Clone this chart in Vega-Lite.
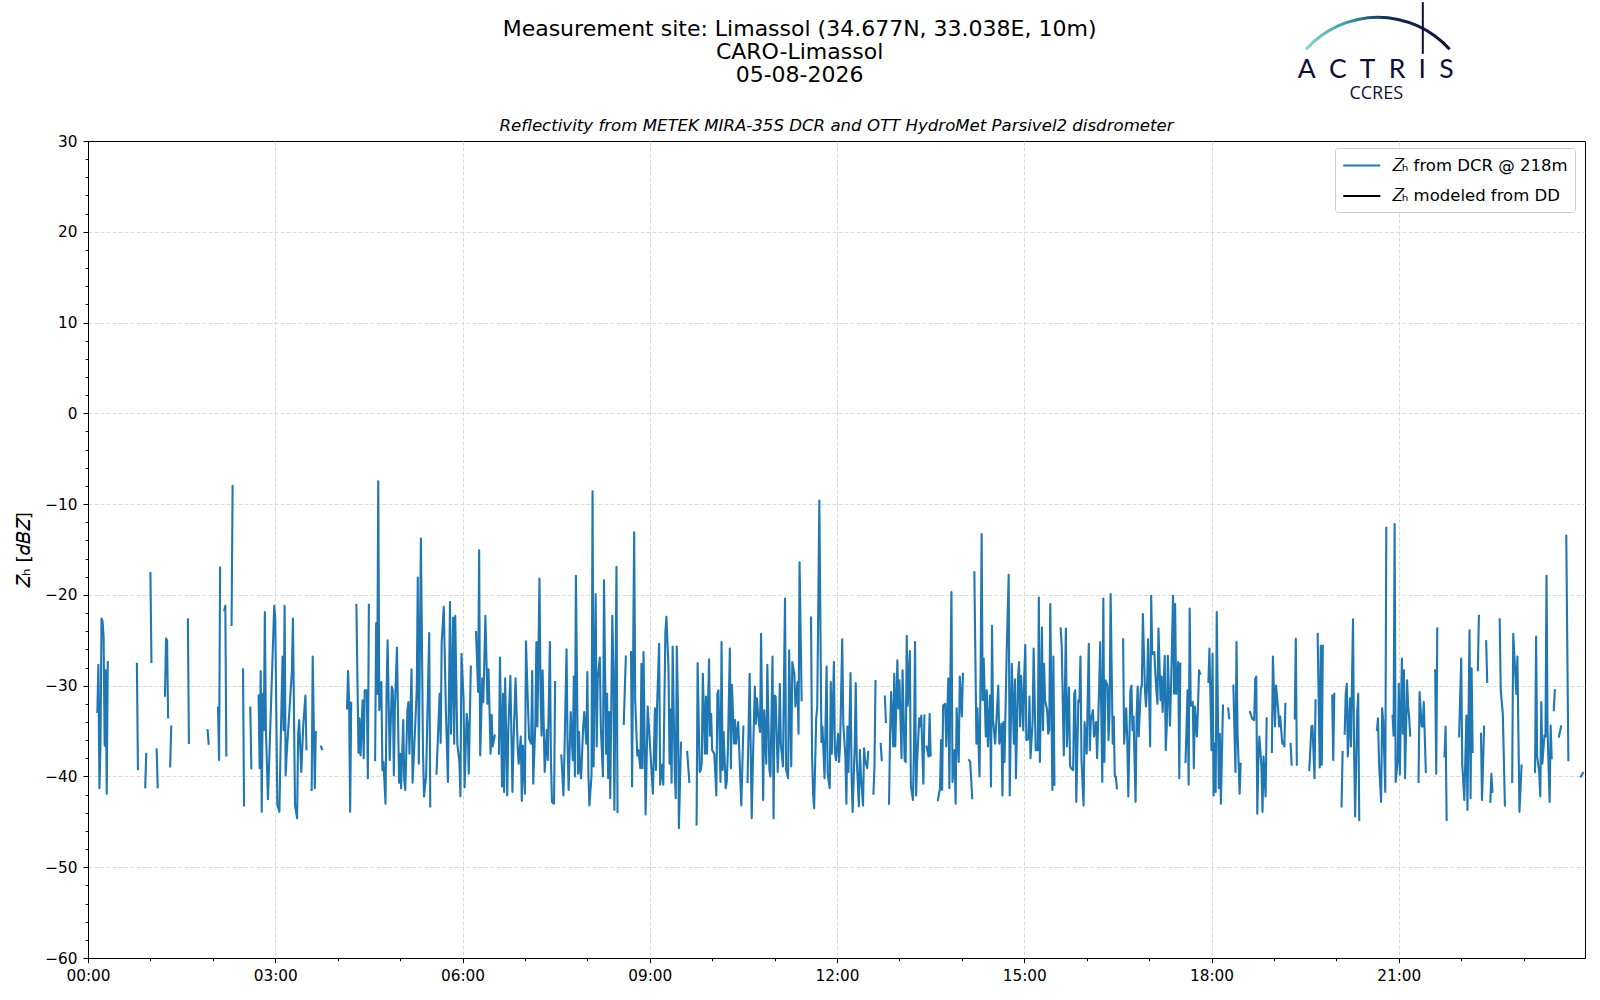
{
  "$schema": "https://vega.github.io/schema/vega-lite/v6.json",
  "width": 1497,
  "height": 817,
  "autosize": {"type": "none"},
  "padding": {"left": 88, "top": 141, "right": 15, "bottom": 42},
  "background": "white",
  "config": {
    "font": "DejaVu Sans",
    "view": {"stroke": "black", "strokeWidth": 1},
    "axis": {
      "domainColor": "black",
      "domainWidth": 1,
      "tickColor": "black",
      "tickWidth": 1,
      "labelColor": "black",
      "labelFont": "DejaVu Sans",
      "labelFontSize": 15.3,
      "gridColor": "#d0d0d0",
      "gridDash": [4, 2],
      "gridWidth": 0.8,
      "labelOverlap": false,
      "labelFlush": false,
      "labelBound": false
    }
  },
  "layer": [
    {
      "data": {"values": [
        {"m":9,"z":-32.9},{"m":10,"z":-27.7},{"m":11,"z":-41.3},{"m":12,"z":-36.6},{"m":13,"z":-22.6},{"m":14,"z":-22.9},{"m":15,"z":-24.6},{"m":16,"z":-36.6},{"m":17,"z":-28.3},{"m":18,"z":-41.9},{"m":19,"z":-27.4},{"m":20,"z":null},
        {"m":47,"z":-27.6},{"m":48,"z":-39.2},{"m":49,"z":null},
        {"m":55,"z":-41.2},{"m":56,"z":-37.5},{"m":57,"z":null},
        {"m":60,"z":-17.6},{"m":61,"z":-27.4},{"m":62,"z":null},
        {"m":66,"z":-37.0},{"m":67,"z":-41.2},{"m":68,"z":null},
        {"m":74,"z":-31.1},{"m":75,"z":-24.8},{"m":76,"z":-25.0},{"m":77,"z":-33.5},{"m":78,"z":null},
        {"m":79,"z":-38.9},{"m":80,"z":-34.5},{"m":81,"z":null},
        {"m":96,"z":-22.7},{"m":97,"z":-36.3},{"m":98,"z":null},
        {"m":115,"z":-34.9},{"m":116,"z":-36.4},{"m":117,"z":null},
        {"m":125,"z":-32.4},{"m":126,"z":-38.2},{"m":127,"z":-17.0},{"m":128,"z":null},
        {"m":131,"z":-21.7},{"m":132,"z":-21.2},{"m":133,"z":-37.7},{"m":134,"z":null},
        {"m":138,"z":-23.3},{"m":139,"z":-8.0},{"m":140,"z":null},
        {"m":149,"z":-28.2},{"m":150,"z":-43.2},{"m":151,"z":null},
        {"m":156,"z":-32.4},{"m":157,"z":-39.1},{"m":158,"z":null},
        {"m":164,"z":-31.1},{"m":165,"z":-39.1},{"m":166,"z":-28.4},{"m":167,"z":-43.9},{"m":168,"z":-30.9},{"m":169,"z":-34.9},{"m":170,"z":-21.9},{"m":171,"z":-34.8},{"m":173,"z":-42.5},{"m":179,"z":-21.2},{"m":180,"z":-22.6},{"m":182,"z":-43.1},{"m":184,"z":-43.9},{"m":185,"z":-37.4},{"m":187,"z":-26.8},{"m":188,"z":-34.9},{"m":189,"z":-21.2},{"m":190,"z":-39.9},{"m":191,"z":-37.5},{"m":196,"z":-28.4},{"m":197,"z":-22.6},{"m":199,"z":-43.2},{"m":201,"z":-44.6},{"m":202,"z":-35.3},{"m":203,"z":-33.8},{"m":205,"z":-39.5},{"m":207,"z":-34.2},{"m":209,"z":-31.1},{"m":210,"z":-37.0},{"m":211,"z":null},
        {"m":215,"z":-41.5},{"m":216,"z":-26.8},{"m":218,"z":-41.3},{"m":219,"z":-35.1},{"m":220,"z":null},
        {"m":224,"z":-36.7},{"m":225,"z":-37.0},{"m":226,"z":null},
        {"m":249,"z":-32.5},{"m":250,"z":-28.4},{"m":251,"z":-31.9},{"m":252,"z":-43.9},{"m":253,"z":-31.9},{"m":254,"z":null},
        {"m":258,"z":-21.1},{"m":260,"z":-37.4},{"m":261,"z":-33.6},{"m":262,"z":-37.7},{"m":264,"z":-31.6},{"m":265,"z":-38.0},{"m":266,"z":-30.5},{"m":268,"z":-30.5},{"m":269,"z":-40.2},{"m":270,"z":-21.1},{"m":271,"z":null},
        {"m":276,"z":-38.2},{"m":277,"z":-23.1},{"m":278,"z":-30.9},{"m":279,"z":-7.5},{"m":280,"z":-32.7},{"m":282,"z":-29.6},{"m":283,"z":-39.3},{"m":284,"z":-38.4},{"m":286,"z":-43.0},{"m":287,"z":-30.9},{"m":288,"z":-25.0},{"m":290,"z":-38.2},{"m":292,"z":-30.1},{"m":293,"z":-30.5},{"m":294,"z":-39.9},{"m":295,"z":-32.5},{"m":297,"z":-25.8},{"m":299,"z":-40.7},{"m":300,"z":-37.5},{"m":301,"z":-41.3},{"m":303,"z":-33.8},{"m":304,"z":-40.4},{"m":305,"z":-41.5},{"m":307,"z":-32.8},{"m":308,"z":-31.8},{"m":309,"z":-37.5},{"m":311,"z":-28.2},{"m":312,"z":-40.7},{"m":314,"z":-35.8},{"m":316,"z":-30.5},{"m":317,"z":-18.1},{"m":318,"z":-38.6},{"m":320,"z":-13.8},{"m":322,"z":-37.1},{"m":323,"z":-42.2},{"m":325,"z":-40.0},{"m":328,"z":-24.2},{"m":329,"z":-43.3},{"m":330,"z":null},
        {"m":335,"z":-39.7},{"m":336,"z":-36.8},{"m":338,"z":-30.9},{"m":339,"z":-36.3},{"m":340,"z":-25.2},{"m":342,"z":-21.3},{"m":344,"z":-32.7},{"m":346,"z":-40.6},{"m":348,"z":-20.8},{"m":349,"z":-35.3},{"m":351,"z":-22.5},{"m":352,"z":-36.4},{"m":353,"z":-22.3},{"m":355,"z":-36.4},{"m":357,"z":-38.4},{"m":358,"z":-42.2},{"m":359,"z":-26.5},{"m":361,"z":-31.4},{"m":362,"z":-41.2},{"m":364,"z":-33.1},{"m":365,"z":-34.2},{"m":366,"z":-39.7},{"m":368,"z":-27.9},{"m":369,"z":null},
        {"m":373,"z":-24.1},{"m":375,"z":-30.7},{"m":376,"z":-15.1},{"m":377,"z":-37.7},{"m":379,"z":-29.2},{"m":380,"z":-31.8},{"m":382,"z":-22.3},{"m":384,"z":-32.0},{"m":385,"z":-28.2},{"m":387,"z":-37.5},{"m":388,"z":-33.2},{"m":389,"z":-36.7},{"m":391,"z":-35.5},{"m":392,"z":null},
        {"m":395,"z":-37.5},{"m":396,"z":-26.9},{"m":398,"z":-41.1},{"m":399,"z":-30.9},{"m":400,"z":-41.7},{"m":401,"z":-29.2},{"m":403,"z":-42.1},{"m":404,"z":-34.9},{"m":406,"z":-28.9},{"m":408,"z":-41.7},{"m":409,"z":-36.4},{"m":411,"z":-29.2},{"m":413,"z":-36.7},{"m":414,"z":-38.6},{"m":416,"z":-35.6},{"m":417,"z":-42.7},{"m":418,"z":-36.6},{"m":420,"z":-41.9},{"m":421,"z":-25.1},{"m":423,"z":-32.5},{"m":424,"z":-35.8},{"m":426,"z":-36.4},{"m":427,"z":-28.4},{"m":428,"z":-40.8},{"m":430,"z":-34.2},{"m":431,"z":-25.2},{"m":432,"z":-34.5},{"m":434,"z":-18.2},{"m":435,"z":-30.5},{"m":436,"z":-35.5},{"m":437,"z":-28.3},{"m":439,"z":-39.5},{"m":441,"z":-34.9},{"m":442,"z":-38.2},{"m":444,"z":-25.2},{"m":445,"z":-38.2},{"m":446,"z":-42.8},{"m":448,"z":-43.0},{"m":449,"z":-29.6},{"m":450,"z":null},
        {"m":455,"z":-37.7},{"m":457,"z":-42.1},{"m":458,"z":-37.5},{"m":460,"z":-26.0},{"m":461,"z":-36.4},{"m":462,"z":-41.5},{"m":464,"z":-32.9},{"m":466,"z":-38.2},{"m":467,"z":-29.0},{"m":468,"z":-40.0},{"m":469,"z":-17.9},{"m":471,"z":-39.7},
        {"m":472,"z":-35.1},{"m":473,"z":-39.3},{"m":474,"z":-40.2},{"m":476,"z":-34.5},{"m":477,"z":-32.9},{"m":479,"z":-36.4},{"m":480,"z":-28.5},{"m":481,"z":-39.7},{"m":482,"z":-43.2},{"m":484,"z":-39.9},{"m":485,"z":-8.6},{"m":486,"z":-38.9},{"m":488,"z":-19.9},{"m":489,"z":-36.7},{"m":490,"z":-29.2},{"m":492,"z":-26.9},{"m":493,"z":-34.7},{"m":495,"z":-40.0},{"m":496,"z":-18.4},{"m":498,"z":-37.5},{"m":499,"z":-30.9},{"m":500,"z":-40.2},{"m":501,"z":-32.9},{"m":502,"z":-42.4},{"m":504,"z":-22.3},{"m":505,"z":-28.3},{"m":506,"z":-43.7},{"m":508,"z":-16.9},{"m":509,"z":-43.9},{"m":510,"z":null},
        {"m":515,"z":-34.2},{"m":517,"z":-26.8},{"m":518,"z":null},
        {"m":522,"z":-26.3},{"m":523,"z":-41.1},{"m":525,"z":-13.1},{"m":526,"z":-31.6},{"m":528,"z":-37.7},{"m":529,"z":-37.1},{"m":531,"z":-39.1},{"m":532,"z":-27.6},{"m":533,"z":-39.1},{"m":534,"z":-26.3},{"m":536,"z":-44.2},{"m":538,"z":-32.3},{"m":543,"z":-41.9},{"m":545,"z":-32.5},{"m":546,"z":-39.3},{"m":547,"z":-32.3},{"m":549,"z":-25.4},{"m":550,"z":-40.9},{"m":552,"z":-38.7},{"m":553,"z":-40.9},{"m":555,"z":-24.1},{"m":556,"z":-22.4},{"m":558,"z":-28.0},{"m":559,"z":-38.6},{"m":560,"z":-32.6},{"m":561,"z":-40.7},{"m":562,"z":-25.7},{"m":564,"z":-39.5},{"m":565,"z":-42.4},{"m":566,"z":-25.7},{"m":567,"z":-31.6},{"m":568,"z":-45.7},{"m":570,"z":-36.3},{"m":571,"z":null},
        {"m":576,"z":-37.3},{"m":578,"z":-40.6},{"m":579,"z":null},
        {"m":585,"z":-45.3},{"m":586,"z":-27.5},{"m":588,"z":-39.5},{"m":589,"z":-39.3},{"m":590,"z":-38.4},{"m":591,"z":-28.7},{"m":593,"z":-37.5},{"m":594,"z":-31.2},{"m":595,"z":-37.5},{"m":597,"z":-27.1},{"m":598,"z":-35.5},{"m":599,"z":-33.1},{"m":600,"z":-37.1},{"m":602,"z":-37.5},{"m":604,"z":-42.1},{"m":605,"z":-30.9},{"m":606,"z":-30.5},{"m":608,"z":-40.6},{"m":609,"z":-25.2},{"m":610,"z":-39.3},{"m":611,"z":-35.1},{"m":613,"z":-41.3},{"m":614,"z":-40.6},{"m":615,"z":-37.5},{"m":617,"z":-25.9},{"m":618,"z":-39.1},{"m":619,"z":-29.9},{"m":621,"z":-36.4},{"m":622,"z":-33.8},{"m":623,"z":-36.4},{"m":625,"z":-34.0},{"m":628,"z":-43.2},{"m":630,"z":-34.5},{"m":631,"z":null},
        {"m":634,"z":-40.6},{"m":636,"z":-28.7},{"m":638,"z":-44.6},{"m":639,"z":-38.9},{"m":641,"z":-30.1},{"m":642,"z":-34.2},{"m":643,"z":-31.4},{"m":645,"z":-34.2},{"m":646,"z":-35.1},{"m":647,"z":-24.3},{"m":649,"z":-42.6},{"m":650,"z":-32.7},{"m":652,"z":-38.6},{"m":653,"z":-27.7},{"m":655,"z":-39.3},{"m":656,"z":-40.0},{"m":658,"z":-26.8},{"m":659,"z":-44.6},{"m":660,"z":-31.1},{"m":661,"z":-31.2},{"m":663,"z":-39.5},{"m":664,"z":-36.2},{"m":665,"z":-29.8},{"m":666,"z":-36.4},{"m":668,"z":-38.9},{"m":670,"z":-20.4},{"m":671,"z":-39.2},{"m":673,"z":-40.2},{"m":674,"z":-26.1},{"m":676,"z":-38.9},{"m":677,"z":-27.4},{"m":679,"z":-28.7},{"m":680,"z":-32.3},{"m":682,"z":-29.6},{"m":683,"z":-35.3},{"m":684,"z":-16.4},{"m":686,"z":-31.6},{"m":687,"z":null},
        {"m":695,"z":-22.5},{"m":696,"z":-37.7},{"m":697,"z":-41.9},{"m":698,"z":-43.5},{"m":700,"z":-33.6},{"m":701,"z":-32.3},{"m":703,"z":-9.6},
        {"m":705,"z":-36.2},{"m":706,"z":-34.5},{"m":708,"z":-40.2},{"m":710,"z":-27.9},{"m":711,"z":-39.7},{"m":713,"z":-41.3},{"m":714,"z":-29.6},{"m":715,"z":-37.5},{"m":717,"z":-27.4},{"m":718,"z":-37.3},{"m":719,"z":-38.2},{"m":721,"z":-35.3},{"m":722,"z":-38.4},{"m":723,"z":-36.4},{"m":725,"z":-24.9},{"m":726,"z":-34.2},{"m":728,"z":-37.7},{"m":729,"z":-43.0},{"m":730,"z":-34.5},{"m":731,"z":-39.5},{"m":733,"z":-28.6},{"m":734,"z":-40.0},{"m":735,"z":-43.9},{"m":737,"z":-36.7},{"m":738,"z":-29.7},{"m":739,"z":-38.2},{"m":741,"z":-43.3},{"m":742,"z":-37.1},{"m":743,"z":-40.0},{"m":745,"z":-43.2},{"m":746,"z":-36.9},{"m":747,"z":-38.2},{"m":749,"z":-39.1},{"m":750,"z":-37.3},{"m":751,"z":null},
        {"m":755,"z":-41.9},{"m":756,"z":-38.9},{"m":757,"z":-29.5},{"m":758,"z":null},
        {"m":762,"z":-36.4},{"m":763,"z":-38.2},{"m":764,"z":null},
        {"m":766,"z":-31.2},{"m":767,"z":-34.0},{"m":768,"z":null},
        {"m":770,"z":-43.0},{"m":771,"z":-35.3},{"m":772,"z":-30.7},{"m":774,"z":-36.7},{"m":775,"z":-28.7},{"m":776,"z":-36.7},{"m":778,"z":-27.2},{"m":779,"z":-32.5},{"m":780,"z":-29.4},{"m":782,"z":-38.0},{"m":783,"z":-28.3},{"m":785,"z":-38.2},{"m":786,"z":-38.4},{"m":787,"z":-24.5},{"m":788,"z":-32.2},{"m":790,"z":-26.2},{"m":791,"z":-41.1},{"m":793,"z":-42.6},{"m":794,"z":-36.6},{"m":795,"z":-25.2},{"m":796,"z":-42.1},{"m":797,"z":-38.4},{"m":799,"z":-33.6},{"m":800,"z":-34.5},{"m":801,"z":-33.3},{"m":803,"z":-40.8},{"m":804,"z":-33.3},{"m":805,"z":null},
        {"m":806,"z":-36.7},{"m":808,"z":-37.8},{"m":809,"z":-33.1},{"m":810,"z":-37.7},{"m":811,"z":null},
        {"m":817,"z":-42.6},{"m":819,"z":-41.3},{"m":820,"z":-36.0},{"m":821,"z":-41.5},{"m":822,"z":-32.2},{"m":824,"z":-32.0},{"m":825,"z":-36.7},{"m":827,"z":-29.2},{"m":828,"z":-41.3},{"m":829,"z":-28.7},{"m":830,"z":-19.7},{"m":831,"z":-40.6},{"m":833,"z":-37.1},{"m":834,"z":-43.0},{"m":835,"z":-32.5},{"m":836,"z":-35.6},{"m":837,"z":-38.4},{"m":838,"z":-29.0},{"m":840,"z":-33.4},{"m":841,"z":-28.7},{"m":842,"z":null},
        {"m":847,"z":-38.2},{"m":848,"z":-38.4},{"m":850,"z":-42.4},{"m":851,"z":null},
        {"m":852,"z":-17.5},{"m":854,"z":-36.4},{"m":855,"z":-32.5},{"m":857,"z":-40.0},{"m":858,"z":-28.7},{"m":859,"z":-13.3},{"m":860,"z":-31.6},{"m":861,"z":-27.0},{"m":863,"z":-35.6},{"m":864,"z":-30.5},{"m":865,"z":-36.7},{"m":867,"z":-31.1},{"m":868,"z":-41.1},{"m":869,"z":-23.4},{"m":870,"z":-33.8},{"m":872,"z":-36.4},{"m":875,"z":-30.0},{"m":876,"z":-36.4},{"m":878,"z":-34.2},{"m":879,"z":-42.1},{"m":880,"z":-34.0},{"m":881,"z":-38.4},{"m":883,"z":-26.8},{"m":885,"z":-17.8},{"m":886,"z":-42.1},{"m":888,"z":-27.6},{"m":890,"z":-36.4},{"m":891,"z":-29.3},{"m":892,"z":-40.2},{"m":894,"z":-29.0},{"m":895,"z":-27.4},{"m":896,"z":-34.5},{"m":897,"z":-28.9},{"m":899,"z":-34.9},{"m":900,"z":-28.7},{"m":901,"z":-25.5},{"m":902,"z":-36.0},{"m":904,"z":-35.9},{"m":905,"z":-31.2},{"m":906,"z":-38.0},{"m":908,"z":-34.0},{"m":909,"z":-25.9},{"m":910,"z":-31.6},{"m":911,"z":-37.1},{"m":913,"z":-37.1},{"m":914,"z":-20.3},{"m":915,"z":-38.4},{"m":917,"z":-23.6},{"m":918,"z":-34.9},{"m":919,"z":-27.6},{"m":920,"z":-31.6},{"m":922,"z":-32.7},{"m":923,"z":-35.3},{"m":924,"z":-34.9},{"m":925,"z":-21.0},{"m":927,"z":-41.5},{"m":928,"z":-26.8},{"m":929,"z":-40.9},{"m":930,"z":null},
        {"m":935,"z":-23.7},{"m":936,"z":-25.7},{"m":938,"z":-37.7},{"m":940,"z":-23.7},{"m":941,"z":-36.7},{"m":943,"z":-30.2},{"m":944,"z":-38.8},{"m":945,"z":-39.1},{"m":947,"z":-39.3},{"m":948,"z":-30.9},{"m":949,"z":-30.5},{"m":950,"z":-42.8},{"m":952,"z":-31.6},{"m":953,"z":-31.8},{"m":954,"z":-26.8},{"m":955,"z":-38.2},{"m":957,"z":-43.2},{"m":958,"z":-34.0},{"m":960,"z":-37.5},{"m":962,"z":-25.4},{"m":963,"z":-37.1},{"m":964,"z":-33.8},{"m":966,"z":-32.7},{"m":967,"z":-35.6},{"m":969,"z":-34.0},{"m":970,"z":-38.0},{"m":971,"z":-34.2},{"m":972,"z":-30.0},{"m":973,"z":-25.2},{"m":975,"z":-40.6},{"m":976,"z":-20.4},{"m":977,"z":-38.4},{"m":978,"z":-29.4},{"m":980,"z":-30.0},{"m":981,"z":-36.0},{"m":982,"z":-32.9},{"m":983,"z":-19.9},{"m":985,"z":-36.4},{"m":986,"z":-33.4},{"m":987,"z":-40.0},{"m":988,"z":-40.0},{"m":989,"z":-41.3},{"m":990,"z":null},
        {"m":995,"z":-24.9},{"m":996,"z":-36.4},{"m":998,"z":-32.5},{"m":999,"z":-36.0},{"m":1000,"z":-42.2},{"m":1002,"z":-30.5},{"m":1003,"z":-30.0},{"m":1004,"z":-34.9},{"m":1005,"z":-33.4},{"m":1007,"z":-42.8},{"m":1008,"z":-33.3},{"m":1009,"z":-30.1},{"m":1010,"z":-35.6},{"m":1012,"z":-30.3},{"m":1013,"z":-30.1},{"m":1014,"z":-22.1},{"m":1016,"z":-30.5},{"m":1017,"z":-32.3},{"m":1018,"z":-30.1},{"m":1019,"z":-24.9},{"m":1021,"z":-36.7},{"m":1022,"z":-20.1},{"m":1023,"z":-26.5},{"m":1025,"z":-26.3},{"m":1026,"z":-28.7},{"m":1027,"z":-30.5},{"m":1028,"z":-32.0},{"m":1029,"z":-23.7},{"m":1031,"z":-31.6},{"m":1032,"z":-29.0},{"m":1033,"z":-32.9},{"m":1035,"z":-26.7},{"m":1036,"z":-37.1},{"m":1037,"z":-34.5},{"m":1038,"z":-26.7},{"m":1040,"z":-34.4},{"m":1041,"z":-30.5},{"m":1043,"z":-20.1},{"m":1044,"z":-30.9},{"m":1045,"z":-21.0},{"m":1046,"z":-30.9},{"m":1048,"z":-27.4},{"m":1049,"z":-40.2},{"m":1050,"z":-27.6},{"m":1051,"z":null},
        {"m":1055,"z":-38.4},{"m":1057,"z":-30.5},{"m":1058,"z":-40.9},{"m":1059,"z":-21.5},{"m":1060,"z":-32.2},{"m":1062,"z":-31.8},{"m":1063,"z":-39.1},{"m":1064,"z":-32.3},{"m":1066,"z":-35.6},{"m":1067,"z":-32.3},{"m":1068,"z":-28.3},{"m":1069,"z":-28.7},{"m":1070,"z":null},
        {"m":1077,"z":-29.6},{"m":1078,"z":-25.9},{"m":1080,"z":-37.1},{"m":1081,"z":-26.5},{"m":1082,"z":-42.1},{"m":1083,"z":-36.4},{"m":1084,"z":-41.7},{"m":1085,"z":-21.9},{"m":1087,"z":-41.3},{"m":1088,"z":-35.3},{"m":1089,"z":-43.0},{"m":1091,"z":-32.2},{"m":1092,"z":null},
        {"m":1096,"z":-32.5},{"m":1097,"z":-33.6},{"m":1098,"z":null},
        {"m":1101,"z":-30.0},{"m":1103,"z":-39.5},{"m":1104,"z":-25.2},{"m":1105,"z":-35.1},{"m":1107,"z":-41.9},{"m":1108,"z":-38.6},{"m":1109,"z":null},
        {"m":1117,"z":-32.9},{"m":1119,"z":-33.6},{"m":1121,"z":-33.8},{"m":1122,"z":-29.2},{"m":1123,"z":-29.0},{"m":1124,"z":-44.1},{"m":1125,"z":-38.2},{"m":1126,"z":-35.6},{"m":1128,"z":-38.9},{"m":1129,"z":-43.9},{"m":1130,"z":-37.8},{"m":1132,"z":-42.2},{"m":1133,"z":-33.6},{"m":1134,"z":null},
        {"m":1138,"z":-37.3},{"m":1139,"z":-26.8},{"m":1141,"z":-34.5},{"m":1142,"z":-30.0},{"m":1144,"z":-32.5},{"m":1145,"z":-34.5},{"m":1146,"z":-33.4},{"m":1148,"z":-36.4},{"m":1149,"z":-36.2},{"m":1150,"z":-36.7},{"m":1151,"z":-32.0},{"m":1152,"z":null},
        {"m":1156,"z":-36.4},{"m":1157,"z":-38.7},{"m":1158,"z":null},
        {"m":1160,"z":-33.6},{"m":1161,"z":-24.8},{"m":1162,"z":-38.7},{"m":1163,"z":null},
        {"m":1174,"z":-39.3},{"m":1176,"z":-34.5},{"m":1177,"z":-34.4},{"m":1179,"z":-40.2},{"m":1180,"z":-31.6},{"m":1181,"z":null},
        {"m":1182,"z":-24.3},{"m":1184,"z":-39.0},{"m":1185,"z":-25.6},{"m":1186,"z":-38.7},{"m":1187,"z":-25.6},{"m":1188,"z":null},
        {"m":1196,"z":-31.1},{"m":1197,"z":-38.2},{"m":1198,"z":-30.9},{"m":1199,"z":null},
        {"m":1205,"z":-43.3},{"m":1206,"z":-37.3},{"m":1207,"z":null},
        {"m":1208,"z":-35.3},{"m":1209,"z":-30.9},{"m":1210,"z":-29.8},{"m":1211,"z":-37.8},{"m":1213,"z":-31.4},{"m":1214,"z":-36.7},{"m":1216,"z":-22.7},{"m":1217,"z":-36.6},{"m":1218,"z":-44.4},{"m":1220,"z":-33.1},{"m":1221,"z":-30.9},{"m":1222,"z":-44.8},{"m":1223,"z":null},
        {"m":1239,"z":-34.9},{"m":1240,"z":-33.6},{"m":1241,"z":-38.4},{"m":1243,"z":-42.8},{"m":1244,"z":-32.5},{"m":1245,"z":-33.8},{"m":1247,"z":-41.7},{"m":1248,"z":-12.6},{"m":1249,"z":null},
        {"m":1254,"z":-33.3},{"m":1255,"z":-35.5},{"m":1256,"z":-12.2},{"m":1257,"z":-40.6},{"m":1259,"z":-38.2},{"m":1260,"z":-29.8},{"m":1261,"z":-39.8},{"m":1263,"z":-27.0},{"m":1264,"z":-35.3},{"m":1265,"z":-28.3},{"m":1266,"z":-40.2},{"m":1268,"z":-29.4},{"m":1269,"z":-32.3},{"m":1270,"z":-33.6},{"m":1271,"z":-35.5},{"m":1272,"z":null},
        {"m":1279,"z":-40.6},{"m":1280,"z":-30.7},{"m":1282,"z":-34.5},{"m":1283,"z":-34.5},{"m":1284,"z":-31.8},{"m":1286,"z":-39.5},{"m":1287,"z":null},
        {"m":1295,"z":-28.3},{"m":1296,"z":-39.7},{"m":1297,"z":-23.7},{"m":1298,"z":null},
        {"m":1304,"z":-37.8},{"m":1305,"z":-34.5},{"m":1306,"z":-44.8},{"m":1307,"z":null},
        {"m":1318,"z":-35.6},{"m":1320,"z":-27.0},{"m":1321,"z":-38.6},{"m":1323,"z":-42.6},{"m":1325,"z":-33.3},{"m":1326,"z":-43.7},{"m":1328,"z":-23.9},{"m":1329,"z":-42.4},{"m":1330,"z":-28.1},{"m":1331,"z":-37.3},{"m":1332,"z":null},
        {"m":1336,"z":-28.3},{"m":1337,"z":-22.3},{"m":1338,"z":null},
        {"m":1339,"z":-35.3},{"m":1340,"z":-42.6},{"m":1342,"z":-34.5},{"m":1343,"z":null},
        {"m":1344,"z":-25.1},{"m":1345,"z":-29.6},{"m":1346,"z":null},
        {"m":1348,"z":-42.8},{"m":1349,"z":-39.7},{"m":1350,"z":-41.7},{"m":1351,"z":null},
        {"m":1357,"z":-22.7},{"m":1358,"z":-30.5},{"m":1360,"z":-33.1},{"m":1362,"z":-43.2},{"m":1363,"z":null},
        {"m":1369,"z":-40.6},{"m":1370,"z":-24.3},{"m":1373,"z":-30.9},{"m":1374,"z":-26.8},{"m":1376,"z":-43.9},{"m":1378,"z":-38.8},{"m":1379,"z":null},
        {"m":1391,"z":-39.5},{"m":1392,"z":-24.6},{"m":1393,"z":-37.8},{"m":1395,"z":-39.5},{"m":1396,"z":-42.2},{"m":1397,"z":-31.8},{"m":1398,"z":-38.6},{"m":1400,"z":-35.5},{"m":1401,"z":-35.6},{"m":1402,"z":-17.9},{"m":1403,"z":-35.0},{"m":1405,"z":-42.8},{"m":1406,"z":-34.4},{"m":1407,"z":-38.0},{"m":1408,"z":null},
        {"m":1409,"z":-32.7},{"m":1410,"z":-30.5},{"m":1411,"z":null},
        {"m":1414,"z":-35.6},{"m":1416,"z":-34.5},{"m":1417,"z":null},
        {"m":1421,"z":-13.5},{"m":1423,"z":-38.2},{"m":1424,"z":null},
        {"m":1435,"z":-40.0},{"m":1437,"z":-39.6}
      ]},
      "mark": {"type": "line", "strokeWidth": 2.1, "strokeJoin": "round", "strokeCap": "square", "invalid": "break-paths-filter-domains"},
      "encoding": {
        "x": {
          "field": "m",
          "type": "quantitative",
          "scale": {"domain": [0, 1439], "nice": false, "zero": false},
          "axis": {
            "title": null,
            "tickCount": 100,
            "values": [0,60,120,180,240,300,360,420,480,540,600,660,720,780,840,900,960,1020,1080,1140,1200,1260,1320,1380],
            "labelExpr": "datum.value % 180 === 0 ? (datum.value < 600 ? '0' : '') + floor(datum.value / 60) + ':00' : ''",
            "tickSize": {"condition": {"test": "datum.value % 180 === 0", "value": 4.7}, "value": 2.7},
            "gridOpacity": {"condition": {"test": "datum.value % 180 === 0 && datum.value > 0", "value": 1}, "value": 0},
            "labelPadding": 6
          }
        },
        "y": {
          "field": "z",
          "type": "quantitative",
          "scale": {"domain": [-60, 30], "nice": false, "zero": false},
          "axis": {
            "title": "𝑍ₕ [𝑑𝐵𝑍]",
            "titleFont": "DejaVu Sans",
            "titleFontSize": 18.5,
            "titleFontWeight": "normal",
            "titleColor": "black",
            "titlePadding": 11,
            "tickCount": 100,
            "values": [-60,-58,-56,-54,-52,-50,-48,-46,-44,-42,-40,-38,-36,-34,-32,-30,-28,-26,-24,-22,-20,-18,-16,-14,-12,-10,-8,-6,-4,-2,0,2,4,6,8,10,12,14,16,18,20,22,24,26,28,30],
            "labelExpr": "datum.value % 10 === 0 ? datum.label : ''",
            "tickSize": {"condition": {"test": "datum.value % 10 === 0", "value": 5}, "value": 2.8},
            "gridOpacity": {"condition": {"test": "datum.value % 10 === 0 && datum.value > -60 && datum.value < 30", "value": 1}, "value": 0},
            "labelPadding": 6
          }
        },
        "color": {
          "datum": "𝑍ₕ from DCR @ 218m",
          "type": "nominal",
          "scale": {"domain": ["𝑍ₕ from DCR @ 218m", "𝑍ₕ modeled from DD"], "range": ["#1f77b4", "#000000"]},
          "legend": {
            "orient": "none",
            "legendX": 1247,
            "legendY": 7,
            "title": null,
            "symbolType": "M-1,0H3",
            "symbolSize": 342,
            "symbolStrokeWidth": 2,
            "labelOffset": 28.7,
            "labelFont": "DejaVu Sans",
            "labelFontSize": 16.5,
            "labelColor": "black",
            "labelLimit": 400,
            "padding": 7,
            "rowPadding": 11.6,
            "strokeColor": "#cccccc",
            "fillColor": "rgba(255,255,255,0.8)",
            "cornerRadius": 3
          }
        }
      }
    },
    {
      "data": {"values": [{}]},
      "mark": {"type": "text", "text": ["Measurement site: Limassol (34.677N, 33.038E, 10m)", "CARO-Limassol", "05-08-2026"], "font": "DejaVu Sans", "fontSize": 22, "lineHeight": 23, "color": "black", "align": "center", "baseline": "alphabetic"},
      "encoding": {"x": {"datum": 684.0, "type": "quantitative"}, "y": {"datum": 41.62, "type": "quantitative"}}
    },
    {
      "data": {"values": [{}]},
      "mark": {"type": "text", "text": "Reflectivity from METEK MIRA-35S DCR and OTT HydroMet Parsivel2 disdrometer", "font": "DejaVu Sans", "fontSize": 16.6, "fontStyle": "italic", "color": "black", "align": "center", "baseline": "alphabetic"},
      "encoding": {"x": {"datum": 719.5, "type": "quantitative"}, "y": {"datum": 31.1, "type": "quantitative"}}
    },
    {
      "data": {"values": [{}]},
      "mark": {"type": "arc", "innerRadius": 95, "outerRadius": 98, "theta": -0.8385, "theta2": 0.8385,
        "fill": {"gradient": "linear", "x1": 0, "y1": 0, "x2": 1, "y2": 0, "stops": [
          {"offset": 0, "color": "#8fd3cf"},
          {"offset": 0.3, "color": "#3d98a6"},
          {"offset": 0.55, "color": "#123052"},
          {"offset": 1, "color": "#0a0d33"}
        ]}},
      "encoding": {"x": {"datum": 1239.9, "type": "quantitative"}, "y": {"datum": 32.99, "type": "quantitative"}}
    },
    {
      "data": {"values": [{}]},
      "mark": {"type": "rule", "stroke": "#0b1034", "strokeWidth": 2},
      "encoding": {"x": {"datum": 1283.1, "type": "quantitative"}, "y": {"datum": 45.3, "type": "quantitative"}, "y2": {"datum": 39.6}}
    },
    {
      "data": {"values": [{}]},
      "mark": {"type": "text", "text": "A\u2002C\u2002T\u2002R\u2002I\u2002S", "font": "Lato", "fontSize": 26.5, "color": "#0d1137", "align": "center", "baseline": "alphabetic"},
      "encoding": {"x": {"datum": 1237.8, "type": "quantitative"}, "y": {"datum": 36.99, "type": "quantitative"}}
    },
    {
      "data": {"values": [{}]},
      "mark": {"type": "text", "text": "CCRES", "font": "Open Sans", "fontSize": 18, "color": "#0d1137", "align": "center", "baseline": "alphabetic"},
      "encoding": {"x": {"datum": 1238.3, "type": "quantitative"}, "y": {"datum": 34.6, "type": "quantitative"}}
    }
  ]
}
